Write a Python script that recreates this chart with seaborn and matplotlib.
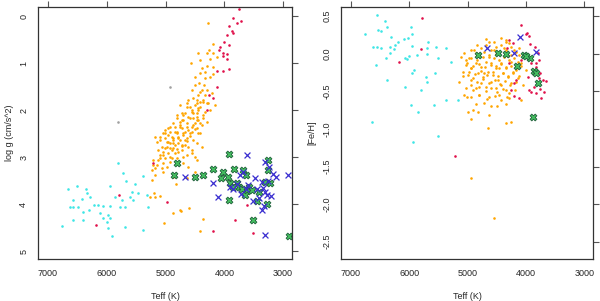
import matplotlib
matplotlib.use("Agg")
import matplotlib.pyplot as plt
import seaborn as sns

# ---- left panel: Teff vs log g ----
orange_teff_g = [4277, 4192, 4260, 4192, 4124, 4294, 4243, 4413, 4566, 4447,
                 4192, 4294, 4379, 4328, 4413, 4498, 4328, 4243, 4192, 4430,
                 4345, 4498, 4549, 4379, 4294, 4447, 4532, 4362, 4277, 4617,
                 4464, 4413, 4634, 4549, 4464, 4362, 4719, 4617, 4532, 4804,
                 4702, 4447, 4294, 4753, 4634, 4549, 4872, 4958, 4804, 4702,
                 4583, 4464, 5009, 4890, 4787, 4668, 5094, 4975, 4872, 4719,
                 4617, 5145, 5060, 5179, 4924, 4804, 4532, 4379,
                 4753, 4634, 4498, 4413, 4294, 4447, 4549, 4668, 4464, 4583,
                 4719, 4804, 4634, 4498, 4379, 4753, 4924, 5009, 4838, 4668,
                 4549, 4447, 4958, 5043, 4787, 4634, 4872, 5009, 5094, 4924,
                 4787, 4668, 4975, 4872, 4719, 5043, 4958, 5128, 4838, 5094,
                 5009, 4890, 5128, 5043, 5213, 4924, 5145, 5060, 5230, 4975,
                 5179, 5043, 4634, 4549, 4498, 4702, 4617, 4498, 4872, 5213,
                 5230,
                 5094, 5179, 4753, 4872, 4600, 4362, 4413, 5026, 5179, 4821,
                 4634, 4464, 4736, 5264, 5196,
                 4413, 4328, 4209, 4464, 4362, 4158, 4583, 4447, 4532, 4328,
                 4243, 4702, 4464, 4362, 4753, 4532, 4413, 4838, 4719, 4617,
                 4498, 4924, 4804, 4702, 4583, 4872, 4753, 4634, 4958, 4838,
                 4719, 5009, 4890, 4787, 5043, 4924, 4702, 4549, 4413, 4464,
                 5094, 4804]
orange_logg = [0.15, 0.60, 0.72, 0.79, 0.87, 0.79, 0.91, 0.94, 1.00, 0.79,
               1.09, 1.06, 1.11, 1.19, 1.21, 1.30, 1.32, 1.30, 1.23, 1.43,
               1.47, 1.47, 1.57, 1.57, 1.57, 1.68, 1.74, 1.79, 1.85, 1.79,
               1.85, 1.94, 1.94, 2.00, 2.06, 2.11, 2.06, 2.15, 2.17, 2.11,
               2.21, 2.21, 2.26, 2.32, 2.36, 2.36, 2.28, 2.38, 2.47, 2.49,
               2.49, 2.38, 2.49, 2.57, 2.60, 2.64, 2.57, 2.68, 2.70, 2.74,
               2.79, 2.68, 2.79, 2.57, 2.81, 2.83, 2.64, 2.79,
               1.89, 1.85, 1.89, 1.83, 1.85, 2.00, 2.04, 2.06, 2.15, 2.17,
               2.21, 2.17, 2.28, 2.28, 2.32, 2.36, 2.36, 2.43, 2.47, 2.47,
               2.47, 2.49, 2.53, 2.49, 2.57, 2.60, 2.64, 2.60, 2.64, 2.70,
               2.70, 2.74, 2.79, 2.81, 2.85, 2.89, 2.91, 2.85, 2.91, 2.96,
               3.02, 3.02, 3.06, 3.13, 3.06, 3.11, 3.17, 3.23, 3.28, 3.21,
               3.38, 3.32, 2.96, 2.85, 3.00, 3.13, 3.21, 3.32, 3.43, 3.17,
               3.49,
               3.83, 3.85, 4.13, 4.19, 4.09, 4.32, 4.57, 4.40, 3.23, 3.57,
               3.45, 3.06, 4.15, 3.85, 3.77,
               1.62, 1.68, 1.64, 1.79, 1.83, 1.89, 1.94, 1.96, 2.06, 2.04,
               2.00, 2.11, 2.21, 2.17, 2.26, 2.32, 2.28, 2.36, 2.38, 2.43,
               2.40, 2.47, 2.49, 2.53, 2.55, 2.60, 2.64, 2.66, 2.68, 2.74,
               2.77, 2.81, 2.85, 2.89, 2.96, 3.00, 3.00, 2.91, 2.49, 2.70,
               3.02, 3.02]

red_teff_g = [3749, 3851, 3783, 3919, 3868, 3851, 3953, 4004, 3919, 4090,
              4022, 3953, 4022, 3953, 4022, 3919, 4124, 4124, 4260, 4192,
              4294, 3715, 4073, 5792, 4975, 6183, 4192, 3817, 3613, 3511,
              5213]
red_logg = [-0.15, 0.04, 0.15, 0.21, 0.32, 0.36, 0.40, 0.55, 0.62, 0.72,
            0.79, 0.81, 0.85, 0.91, 1.17, 1.13, 1.17, 1.51, 1.68, 1.74,
            2.00, 0.11, 0.66, 3.81, 3.96, 4.45, 4.57, 4.34, 4.02, 4.62,
            3.13]

cyan_teff_g = [5809, 5724, 5672, 5519, 5945, 6506, 6353, 6336, 6660, 6574,
               6421, 6285, 6217, 6149, 6064, 5945, 6574, 6489, 6404, 6302,
               6115, 6064, 5979, 5945, 5996, 6404, 5860, 5740, 5570, 5553,
               5468, 5315, 5298, 5775, 5689, 5689, 5979, 5911, 5383, 6762,
               6574, 6626, 5383, 5604]
cyan_logg = [3.13, 3.34, 3.51, 3.57, 3.62, 3.62, 3.68, 3.77, 3.68, 3.91,
             3.89, 3.85, 4.02, 4.02, 4.04, 4.04, 4.06, 4.06, 4.17, 4.13,
             4.19, 4.30, 4.23, 4.30, 4.38, 4.34, 3.85, 3.91, 3.74, 3.91,
             3.77, 3.81, 4.06, 4.06, 4.06, 4.49, 4.51, 4.68, 4.55, 4.47,
             4.34, 4.06, 3.40, 3.85]

grey_teff_g = [5809, 4924]
grey_logg = [2.26, 1.51]

blue_teff_g = [3613, 4668, 4192, 4107, 3307, 2915, 3307, 3732, 3681, 3783,
               3596, 3477, 3358, 3307, 3273, 3341, 3205, 3409, 3511, 3715,
               3324, 3358, 3256, 3171, 3119, 3239, 3851, 3630, 3443, 3902]
blue_logg = [2.96, 3.43, 3.55, 3.85, 4.66, 3.38, 3.11, 3.38, 3.32, 3.57,
             3.60, 3.45, 3.53, 3.74, 3.81, 3.66, 3.83, 3.87, 3.94, 3.79,
             4.04, 4.13, 3.51, 3.36, 3.43, 3.21, 3.68, 3.68, 3.68, 3.64]

green_teff_g = [3919, 4804, 4855, 4498, 4362, 4192, 4022, 4056, 3936, 3834,
                3681, 3630, 3902, 3783, 3749, 3698, 3579, 3613, 3528, 3919,
                3443, 3511, 3256, 3256, 3273, 2898, 3409, 3307, 3222, 3851,
                3647]
green_logg = [2.94, 3.13, 3.38, 3.43, 3.38, 3.26, 3.32, 3.45, 3.43, 3.26,
              3.28, 3.38, 3.55, 3.55, 3.64, 3.68, 3.64, 3.72, 3.70, 3.91,
              3.94, 4.34, 3.06, 3.28, 4.00, 4.68, 3.74, 3.53, 3.55, 3.64,
              3.81]

# ---- right panel: Teff vs [Fe/H] ----
orange_teff_f = [4941, 4856, 4770, 4685, 4600, 4515, 4430, 4345, 4260, 4175,
                 4124, 4941, 4839, 4736, 4634, 4549, 4464, 4379, 4294, 4209,
                 4141, 5009, 4907, 4804, 4702, 4600, 4515, 4430, 4345, 4260,
                 4175, 4090, 4975, 4873, 4770, 4668, 4566, 4481, 4396, 4311,
                 4226, 4124, 4941, 4839, 4736, 4634, 4532, 4447, 4362, 4277,
                 4175, 5026, 4907, 4804, 4685, 4600, 4498, 4396, 4294, 4192,
                 4941, 4804, 4668, 4532, 4430, 4328, 5077, 5145, 5060, 4856,
                 4600, 4345, 4090, 4004, 4056, 5111, 4634, 4345, 4430, 4685,
                 4839, 4515, 4260, 4719, 4464, 4941, 4992, 4907, 4821, 4941,
                 4651, 4634, 4345, 4260, 4498, 4719, 5009, 5026, 4941, 4549,
                 5060, 4975, 4890, 4804, 4719, 4634, 4549, 4464, 4379, 4294,
                 4209, 4124, 5026, 4941, 4856, 4770, 4685, 4600, 4515, 4430,
                 4345, 4260, 4175, 4992, 4907, 4821, 4736, 4651, 4566, 4481,
                 4396, 4311, 4226, 4141, 4941, 4856, 4770, 4685, 4600, 4515,
                 4430, 4345, 4260, 4804, 4634, 4464, 4294, 5077, 4090, 4345,
                 4549]
orange_feh = [0.05, 0.01, 0.08, 0.12, 0.05, 0.09, 0.12, 0.05, 0.09, 0.02,
              0.08, -0.06, -0.08, -0.04, -0.02, -0.06, -0.08, -0.04, -0.08, -0.06,
              -0.11, -0.12, -0.16, -0.14, -0.18, -0.12, -0.16, -0.14, -0.19, -0.16,
              -0.22, -0.16, -0.24, -0.27, -0.23, -0.28, -0.24, -0.30, -0.26, -0.30,
              -0.26, -0.30, -0.35, -0.38, -0.34, -0.39, -0.35, -0.40, -0.36, -0.42,
              -0.38, -0.45, -0.48, -0.44, -0.49, -0.45, -0.51, -0.47, -0.52, -0.48,
              -0.57, -0.55, -0.60, -0.56, -0.61, -0.57, -0.30, -0.38, -0.55, -0.67,
              -0.69, -0.67, -0.61, -0.22, -0.42, -0.04, 0.16, 0.18, 0.21, 0.19,
              0.12, 0.00, -0.02, -0.26, -0.19, -0.19, -0.77, -0.75, -0.77, -0.87,
              -0.99, -0.81, -0.92, -0.91, -0.69, -0.65, -0.57, -0.08, -1.65, -2.18,
              0.01, -0.06, 0.05, -0.02, 0.02, -0.04, 0.05, 0.01, 0.08, 0.14,
              0.05, -0.02, -0.15, -0.19, -0.12, -0.18, -0.11, -0.15, -0.19, -0.12,
              -0.18, -0.11, -0.19, -0.28, -0.32, -0.26, -0.31, -0.24, -0.28, -0.35,
              -0.26, -0.31, -0.24, -0.32, -0.42, -0.45, -0.39, -0.44, -0.38, -0.45,
              -0.42, -0.48, -0.39, -0.55, -0.57, -0.55, -0.59, -0.24, -0.12, 0.16,
              0.16]

red_teff_f = [5775, 6183, 5213, 4090, 3987, 4004, 3953, 3936, 3851, 4294,
              4226, 4328, 4311, 4090, 3800, 3919, 3834, 3783, 3834, 3868,
              3766, 3783, 3715, 3647, 3800, 3868, 3766, 3834, 3749, 3919,
              3953, 4209, 4260, 4124, 4175, 3970, 4294, 4209, 3698, 5792]
red_feh = [0.47, -0.11, -1.36, 0.38, 0.27, 0.26, 0.23, 0.13, 0.09, 0.18,
           0.14, 0.08, -0.03, -0.08, 0.01, -0.12, -0.12, -0.08, -0.18, -0.24,
           -0.26, -0.32, -0.35, -0.36, -0.39, -0.44, -0.47, -0.52, -0.59, -0.51,
           -0.48, -0.39, -0.48, -0.59, -0.35, -0.31, -0.12, -0.56, -0.51, 0.06]

cyan_teff_f = [6557, 6421, 6387, 6540, 6489, 6762, 6319, 5962, 5945, 6013,
               6098, 6200, 6251, 6626, 6557, 6489, 6336, 6268, 5945, 5672,
               5689, 5536, 5366, 6336, 6404, 6081, 6030, 5996, 5860, 5689,
               5502, 5281, 6575, 5911, 5945, 6387, 5706, 5553, 5689, 6081,
               5792, 5162, 5366, 5962, 5570, 5843, 6643, 5502, 5928]
cyan_feh = [0.51, 0.43, 0.35, 0.31, 0.30, 0.26, 0.22, 0.35, 0.26, 0.21,
            0.19, 0.16, 0.12, 0.09, 0.09, 0.08, 0.09, 0.06, 0.10, 0.16,
            0.08, 0.09, 0.08, 0.01, -0.06, -0.06, -0.07, -0.03, -0.02, 0.00,
            -0.06, -0.11, -0.15, -0.22, -0.26, -0.35, -0.31, -0.26, -0.38, -0.44,
            -0.48, -0.61, -0.61, -0.68, -0.68, -0.77, -0.91, -1.10, -1.17]

blue_teff_f = [4107, 4660, 4200, 3834]
blue_feh = [0.22, 0.08, 0.01, 0.02]

green_teff_f = [4821, 4481, 4345, 4158, 4039, 3936, 3868, 3834, 3800, 3885,
                3990]
green_feh = [-0.02, 0.01, 0.00, -0.16, -0.02, -0.06, -0.23, -0.26, -0.39,
             -0.84, -0.03]


def dots(ax, x, y, color, size=3.5):
    sns.scatterplot(x=x, y=y, ax=ax, color=color, s=size, marker="o",
                    linewidth=0, legend=False)


def crosses(ax, x, y, kind):
    if kind == "blue":
        sns.scatterplot(x=x, y=y, ax=ax, color="#3a2ed0", marker="x", s=18,
                        linewidth=0.9, legend=False)
    else:
        sns.scatterplot(x=x, y=y, ax=ax, color="#45c060", marker="X", s=24,
                        edgecolor="#1f5f3a", linewidth=0.6, legend=False)


def style_axes(ax, yticks):
    ax.set_xlim(7170, 2850)
    ax.set_xticks([7000, 6000, 5000, 4000, 3000])
    ax.set_yticks(yticks)
    ax.tick_params(direction="out", length=4, width=0.8, color="#555555",
                   labelsize=6.5, top=True, right=True, pad=3)
    for sp in ax.spines.values():
        sp.set_color("#333333")
        sp.set_linewidth(0.9)
    ax.set_xlabel("Teff (K)", fontsize=6.5, labelpad=10)


def main():
    sns.set_style("white")
    plt.rcParams["font.family"] = ["Liberation Sans", "DejaVu Sans"]
    plt.rcParams["axes.unicode_minus"] = False

    fig = plt.figure(figsize=(6.0, 3.01), dpi=100)
    ax1 = fig.add_axes([0.0633, 0.1395, 0.4233, 0.837])
    ax2 = fig.add_axes([0.5683, 0.1395, 0.42, 0.837])

    dots(ax1, cyan_teff_g, cyan_logg, "#3ee6e6")
    dots(ax1, orange_teff_g, orange_logg, "#ffa500")
    dots(ax1, grey_teff_g, grey_logg, "#a0a0a0")
    dots(ax1, red_teff_g, red_logg, "#e0104a")
    crosses(ax1, green_teff_g, green_logg, "green")
    crosses(ax1, blue_teff_g, blue_logg, "blue")
    style_axes(ax1, [0, 1, 2, 3, 4, 5])
    ax1.set_yticklabels(["0", "1", "2", "3", "4", "5"], rotation=90,
                        va="center")
    ax1.set_ylim(5.17, -0.19)
    ax1.set_ylabel("log g (cm/s^2)", fontsize=6.5, labelpad=4)

    dots(ax2, cyan_teff_f, cyan_feh, "#3ee6e6")
    dots(ax2, orange_teff_f, orange_feh, "#ffa500")
    dots(ax2, red_teff_f, red_feh, "#e0104a")
    crosses(ax2, green_teff_f, green_feh, "green")
    crosses(ax2, blue_teff_f, blue_feh, "blue")
    style_axes(ax2, [0.5, 0.0, -0.5, -1.0, -1.5, -2.0, -2.5])
    ax2.set_yticklabels(["0.5", "0.0", "-0.5", "-1.0", "-1.5", "-2.0", "-2.5"],
                        rotation=90, va="center")
    ax2.set_ylim(-2.73, 0.62)
    ax2.set_ylabel("[Fe/H]", fontsize=6.5, labelpad=4)

    fig.savefig("out.png", dpi=100)
    plt.close(fig)


if __name__ == "__main__":
    main()
